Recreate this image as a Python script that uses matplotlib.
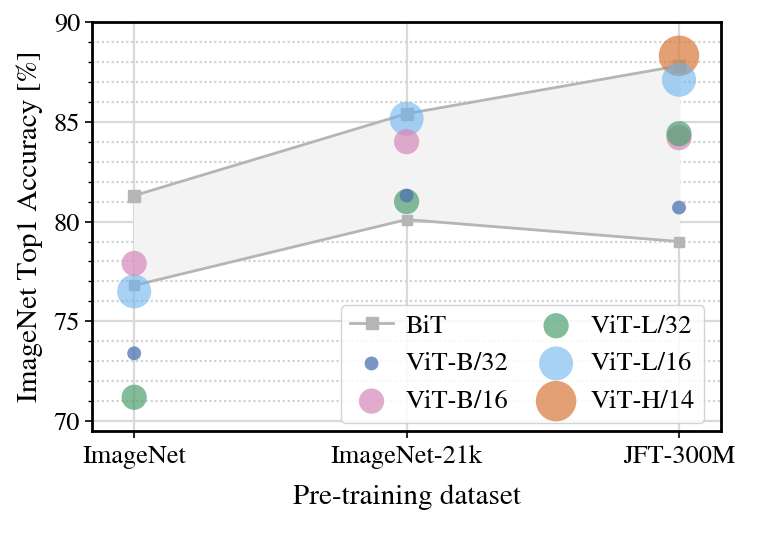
import matplotlib
matplotlib.use("Agg")
import matplotlib.pyplot as plt
from matplotlib.ticker import MultipleLocator
from matplotlib.lines import Line2D

# Pre-training datasets (x axis)
datasets = ["ImageNet", "ImageNet-21k", "JFT-300M"]

# BiT range (upper and lower model)
bit_upper = [81.3, 85.4, 87.8]
bit_lower = [76.8, 80.1, 79.0]

# ViT results per dataset (None = not trained)
vit_names = ["ViT-B/32", "ViT-B/16", "ViT-L/32", "ViT-L/16", "ViT-H/14"]
vit_b32 = [73.4, 81.3, 80.7]
vit_b16 = [77.9, 84.0, 84.2]
vit_l32 = [71.2, 81.0, 84.4]
vit_l16 = [76.5, 85.15, 87.1]
vit_h14 = [None, None, 88.3]
vit_colors = ["#4C72B0", "#D488B8", "#4FA070", "#6CB4EE", "#D98046"]
vit_alpha = [0.75, 0.7, 0.7, 0.6, 0.75]
vit_sizes = [100, 330, 330, 600, 850]

plt.rcParams["font.family"] = ["STIXGeneral", "DejaVu Serif"]
plt.rcParams["mathtext.fontset"] = "stix"

fig, ax = plt.subplots(figsize=(7.6, 5.33), dpi=100)
fig.subplots_adjust(left=0.121, right=0.949, top=0.959, bottom=0.191)

x = list(range(len(datasets)))

# grid
ax.yaxis.set_major_locator(MultipleLocator(5))
ax.yaxis.set_minor_locator(MultipleLocator(1))
ax.grid(True, which="major", axis="both", color="#d9d9d9", linewidth=1.6, zorder=0)
ax.grid(True, which="minor", axis="y", color="#d2d2d2", linewidth=1.6,
        linestyle=(0, (1.0, 1.2)), zorder=0)
ax.set_axisbelow(True)

# BiT band
ax.fill_between(x, bit_lower, bit_upper, color="#f3f3f3", zorder=1)
ax.plot(x, bit_upper, "-s", color="#b5b5b5", lw=2, ms=9, zorder=2)
ax.plot(x, bit_lower, "-s", color="#b5b5b5", lw=2, ms=7, zorder=2)

all_vit = [vit_b32, vit_b16, vit_l32, vit_l16, vit_h14]
order = [4, 3, 1, 2, 0]  # draw big ones first
handles = {}
for i in order:
    vals = all_vit[i]
    xs = [xi for xi, v in zip(x, vals) if v is not None]
    ys = [v for v in vals if v is not None]
    handles[i] = ax.scatter(xs, ys, s=vit_sizes[i], color=vit_colors[i],
                            alpha=vit_alpha[i], edgecolors="none",
                            zorder=3 + order.index(i), label=vit_names[i])

bit_handle = Line2D([], [], color="#b5b5b5", lw=2, marker="s", ms=9, label="BiT")
leg_handles = [bit_handle, handles[0], handles[1], handles[2], handles[3], handles[4]]
leg = ax.legend(leg_handles, ["BiT"] + vit_names, ncol=2, loc="lower right",
                fontsize=19, frameon=True, framealpha=0.85, edgecolor="#cccccc",
                handlelength=1.6, columnspacing=1.0, labelspacing=0.5,
                borderpad=0.35, handletextpad=0.5, borderaxespad=0.3,
                bbox_to_anchor=(0.985, 0.0))
leg.set_zorder(10)

ax.set_xlim(-0.155, 2.155)
ax.set_ylim(69.5, 90)
ax.set_xticks(x)
ax.set_xticklabels(datasets)
ax.tick_params(axis="both", which="major", labelsize=19, direction="out",
               length=5, width=1.2, color="black")
ax.tick_params(axis="x", which="major", pad=5)
ax.tick_params(axis="y", which="minor", direction="out", length=3, width=1.0)

for sp in ax.spines.values():
    sp.set_color("black")
    sp.set_linewidth(2)

ax.set_xlabel("Pre-training dataset", fontsize=21, labelpad=11)
ax.set_ylabel("ImageNet Top1 Accuracy [%]", fontsize=21, labelpad=8)

fig.savefig("out.png", dpi=100)
